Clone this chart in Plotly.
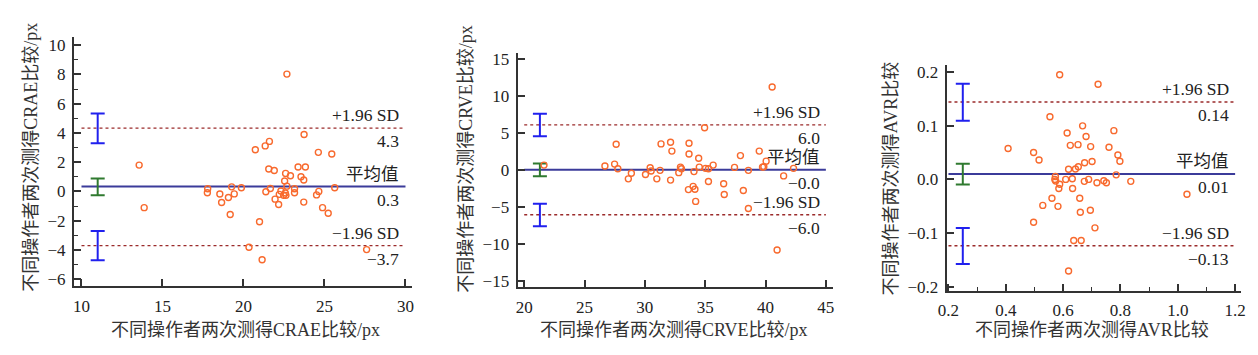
import plotly.graph_objects as go

# ---------------- data ----------------
# Panel 1: CRAE
crae_avg = [13.56, 13.87, 17.79, 17.77, 18.54, 18.65, 19.07, 19.27, 19.43, 19.18,
            19.87, 20.73, 20.34, 20.99, 21.15, 21.34, 21.60, 21.56, 21.90, 21.38,
            21.66, 21.95, 22.17, 22.21, 22.31, 22.54, 22.60, 22.68, 22.68, 22.58,
            22.48, 22.62, 22.90, 23.15, 23.15, 23.37, 23.55, 23.72, 23.74, 23.82,
            23.72, 24.51, 24.62, 24.65, 24.88, 25.23, 25.45, 25.63, 27.60]
crae_diff = [1.80, -1.11, 0.18, -0.09, -0.18, -0.76, -0.42, 0.31, -0.17, -1.58,
             0.25, 2.85, -3.82, -2.07, -4.67, 3.11, 3.42, 1.53, 1.43, -0.02,
             0.20, -0.53, -0.89, -0.20, 0.03, 0.71, 1.23, 8.02, 0.36, -0.11,
             -0.27, -0.27, 1.07, 0.18, -0.09, 1.67, 1.00, 0.78, 3.89, 1.67,
             -0.73, -0.24, 2.67, 0.00, -1.11, -1.49, 2.56, 0.25, -3.98]
crae_lines = [4.33, 0.33, -3.71]          # +1.96SD, mean, -1.96SD
crae_values = ["4.3", "0.3", "\u22123.7"]
crae_ci_low = [3.29, -0.27, -4.71]
crae_ci_high = [5.33, 0.89, -2.71]
crae_ci_x = 11
crae_span = [10, 30]

# Panel 2: CRVE
crve_avg = [21.64, 26.69, 27.49, 27.62, 27.76, 28.63, 28.88, 30.05, 30.44, 30.52,
            30.99, 31.26, 31.34, 32.13, 32.13, 32.24, 32.81, 32.95, 33.03, 33.66,
            33.66, 33.61, 34.00, 34.07, 34.15, 34.21, 34.46, 34.51, 34.95, 35.03,
            35.27, 35.27, 35.66, 36.53, 36.58, 37.43, 37.92, 38.16, 38.58, 38.58,
            39.48, 39.75, 39.86, 40.05, 40.55, 40.96, 41.50, 42.32]
crve_diff = [0.62, 0.49, 0.75, 3.44, 0.13, -1.24, -0.49, -0.66, 0.26, -0.18,
             -1.24, -0.09, 3.48, 3.71, -1.41, 2.51, -0.40, 0.35, 0.13, 3.57,
             2.12, -2.69, -2.25, -0.26, -2.65, -4.28, 1.54, 0.35, 5.65, 0.18,
             0.13, -1.59, 0.62, -1.90, -3.35, 0.31, 1.90, -2.82, -0.09, -5.25,
             2.51, 0.35, 0.40, 1.15, 11.16, -10.85, -0.84, 0.18]
crve_lines = [6.05, -0.02, -6.08]
crve_values = ["6.0", "\u22120.0", "\u22126.0"]
crve_ci_low = [4.50, -0.88, -7.63]
crve_ci_high = [7.54, 0.84, -4.59]
crve_ci_x = 21.3
crve_span = [20, 45]

# Panel 3: AVR
avr_avg = [0.554, 0.408, 0.497, 0.516, 0.614, 0.668, 0.680, 0.625, 0.652, 0.696,
           0.777, 0.760, 0.791, 0.798, 0.701, 0.675, 0.653, 0.643, 0.619, 0.785,
           0.836, 0.573, 0.571, 0.574, 0.588, 0.585, 0.609, 0.632, 0.633, 0.674,
           0.689, 0.718, 0.742, 0.751, 0.561, 0.658, 0.529, 0.582, 0.695, 0.660,
           0.497, 0.711, 0.588, 0.722, 0.637, 0.663, 0.619, 1.032]
avr_diff = [0.1165, 0.0572, 0.0499, 0.0360, 0.0862, 0.0995, 0.0796, 0.0632, 0.0645, 0.0608,
            0.0905, 0.0596, 0.0451, 0.0336, 0.0330, 0.0306, 0.0233, 0.0191, 0.0185, 0.0082,
            -0.0039, 0.0051, -0.0003, -0.0033, -0.0094, -0.0172, -0.0003, 0.0009, -0.0172, -0.0039,
            -0.0003, -0.0064, -0.0027, -0.0064, -0.0354, -0.0354, -0.0487, -0.0505, -0.0578, -0.0614,
            -0.0802, -0.0905, 0.1946, 0.1770, -0.1140, -0.1140, -0.1710, -0.0280]
avr_lines = [0.144, 0.010, -0.124]
avr_values = ["0.14", "0.01", "\u22120.13"]
avr_ci_low = [0.109, -0.010, -0.158]
avr_ci_high = [0.178, 0.029, -0.091]
avr_ci_x = 0.25
avr_span = [0.2, 1.2]

line_labels = ["+1.96 SD", "平均值", "\u22121.96 SD"]
x_titles = ["不同操作者两次测得CRAE比较/px", "不同操作者两次测得CRVE比较/px", "不同操作者两次测得AVR比较"]
y_titles = ["不同操作者两次测得CRAE比较/px", "不同操作者两次测得CRVE比较/px", "不同操作者两次测得AVR比较"]

# ---------------- layout geometry (pixels) ----------------
W, H = 1258, 355
FONT = "'Liberation Serif', 'Times New Roman', Times, 'Noto Sans CJK SC', serif"
panels = [
    dict(avg=crae_avg, diff=crae_diff, lines=crae_lines, values=crae_values,
         lo=crae_ci_low, hi=crae_ci_high, cix=crae_ci_x, span=crae_span,
         px=(65.7, 408), py=(35, 290.7), xr=[9.536, 30.43], yr=[-6.49, 10.55],
         xdt=5, ydt=2, xminor=None, yminor=1, xt_c=(239, 335), yt_c=(22, 158)),
    dict(avg=crve_avg, diff=crve_diff, lines=crve_lines, values=crve_values,
         lo=crve_ci_low, hi=crve_ci_high, cix=crve_ci_x, span=crve_span,
         px=(514.3, 833), py=(51, 291.7), xr=[19.45, 45.57], yr=[-15.88, 15.79],
         xdt=5, ydt=5, xminor=None, yminor=None, xt_c=(672, 336), yt_c=(462, 160)),
    dict(avg=avr_avg, diff=avr_diff, lines=avr_lines, values=avr_values,
         lo=avr_ci_low, hi=avr_ci_high, cix=avr_ci_x, span=avr_span,
         px=(948.3, 1246), py=(63.3, 295), xr=[0.194, 1.221], yr=[-0.2073, 0.2134],
         xdt=0.2, ydt=0.1, xminor=0.1, yminor=None, xt_c=(1095, 336), yt_c=(892, 180)),
]

fig = go.Figure()
annotations = []
AX = "#333333"

for i, p in enumerate(panels):
    n = "" if i == 0 else str(i + 1)
    xa, ya = "x" + n, "y" + n

    # limit lines and mean line
    for k, val in enumerate(p["lines"]):
        if k == 1:
            ln = dict(color="#3b3b9a", width=2)
        else:
            ln = dict(color="#9b2b2b", width=1.4, dash="dot")
        fig.add_trace(go.Scatter(x=p["span"], y=[val, val], mode="lines", line=ln,
                                 xaxis=xa, yaxis=ya, showlegend=False, hoverinfo="skip"))
        annotations.append(dict(x=p["span"][1], y=val, xref=xa, yref=ya, text=line_labels[k],
                                showarrow=False, xanchor="right", yanchor="middle",
                                xshift=-4, yshift=13, font=dict(family=FONT, size=17.5, color="#222")))
        annotations.append(dict(x=p["span"][1], y=val, xref=xa, yref=ya, text=p["values"][k],
                                showarrow=False, xanchor="right", yanchor="middle",
                                xshift=-4, yshift=-13, font=dict(family=FONT, size=17.5, color="#222")))

    # confidence interval bars
    for k in range(3):
        c = (p["lo"][k] + p["hi"][k]) / 2
        col = "#2f7a2f" if k == 1 else "#2020ee"
        fig.add_trace(go.Scatter(x=[p["cix"]], y=[c], mode="markers",
                                 marker=dict(size=1, opacity=0),
                                 error_y=dict(type="data", symmetric=False,
                                              array=[p["hi"][k] - c], arrayminus=[c - p["lo"][k]],
                                              color=col, thickness=2, width=7),
                                 xaxis=xa, yaxis=ya, showlegend=False, hoverinfo="skip"))

    # points
    fig.add_trace(go.Scatter(x=p["avg"], y=p["diff"], mode="markers",
                             marker=dict(symbol="circle-open", size=6, color="#f86a2e",
                                         line=dict(width=1.4, color="#f86a2e")),
                             xaxis=xa, yaxis=ya, showlegend=False))

    common = dict(showline=True, linecolor=AX, linewidth=2, ticks="inside", ticklen=7,
                  tickwidth=1.5, tickcolor=AX, showgrid=False, zeroline=False,
                  tickfont=dict(family=FONT, size=17, color="#222"))
    xminor = dict(ticks="inside", ticklen=4, tickcolor=AX, tickwidth=1.2, dtick=p["xminor"], showgrid=False) if p["xminor"] else None
    yminor = dict(ticks="inside", ticklen=4, tickcolor=AX, tickwidth=1.2, dtick=p["yminor"], showgrid=False) if p["yminor"] else None

    xkw = dict(common, domain=[p["px"][0] / W, p["px"][1] / W], range=p["xr"],
               tick0=0, dtick=p["xdt"], anchor=ya, ticklabelstandoff=3)
    ykw = dict(common, domain=[1 - p["py"][1] / H, 1 - p["py"][0] / H], range=p["yr"],
               tick0=0, dtick=p["ydt"], anchor=xa, ticklabelstandoff=3)
    if p["xminor"]:
        xkw["minor"] = xminor
    if p["yminor"]:
        ykw["minor"] = yminor
    if i == 2:
        xkw["tickformat"] = ".1f"
        ykw["tickformat"] = ".1f"
    fig.update_layout(**{"xaxis" + n: xkw, "yaxis" + n: ykw})

    annotations.append(dict(x=p["xt_c"][0] / W, y=1 - p["xt_c"][1] / H, xref="paper", yref="paper",
                            text=x_titles[i], showarrow=False, xanchor="center", yanchor="middle",
                            font=dict(family=FONT, size=18, color="#333")))
    annotations.append(dict(x=p["yt_c"][0] / W, y=1 - p["yt_c"][1] / H, xref="paper", yref="paper",
                            text=y_titles[i], showarrow=False, xanchor="center", yanchor="middle",
                            textangle=-90, font=dict(family=FONT, size=18, color="#333")))

fig.update_layout(width=W, height=H, margin=dict(l=0, r=0, t=0, b=0),
                  paper_bgcolor="white", plot_bgcolor="white",
                  annotations=annotations, showlegend=False)

fig.write_html("out.html", config={"displayModeBar": False},
               post_script="document.body.style.margin='0';document.body.style.overflow='hidden';")
